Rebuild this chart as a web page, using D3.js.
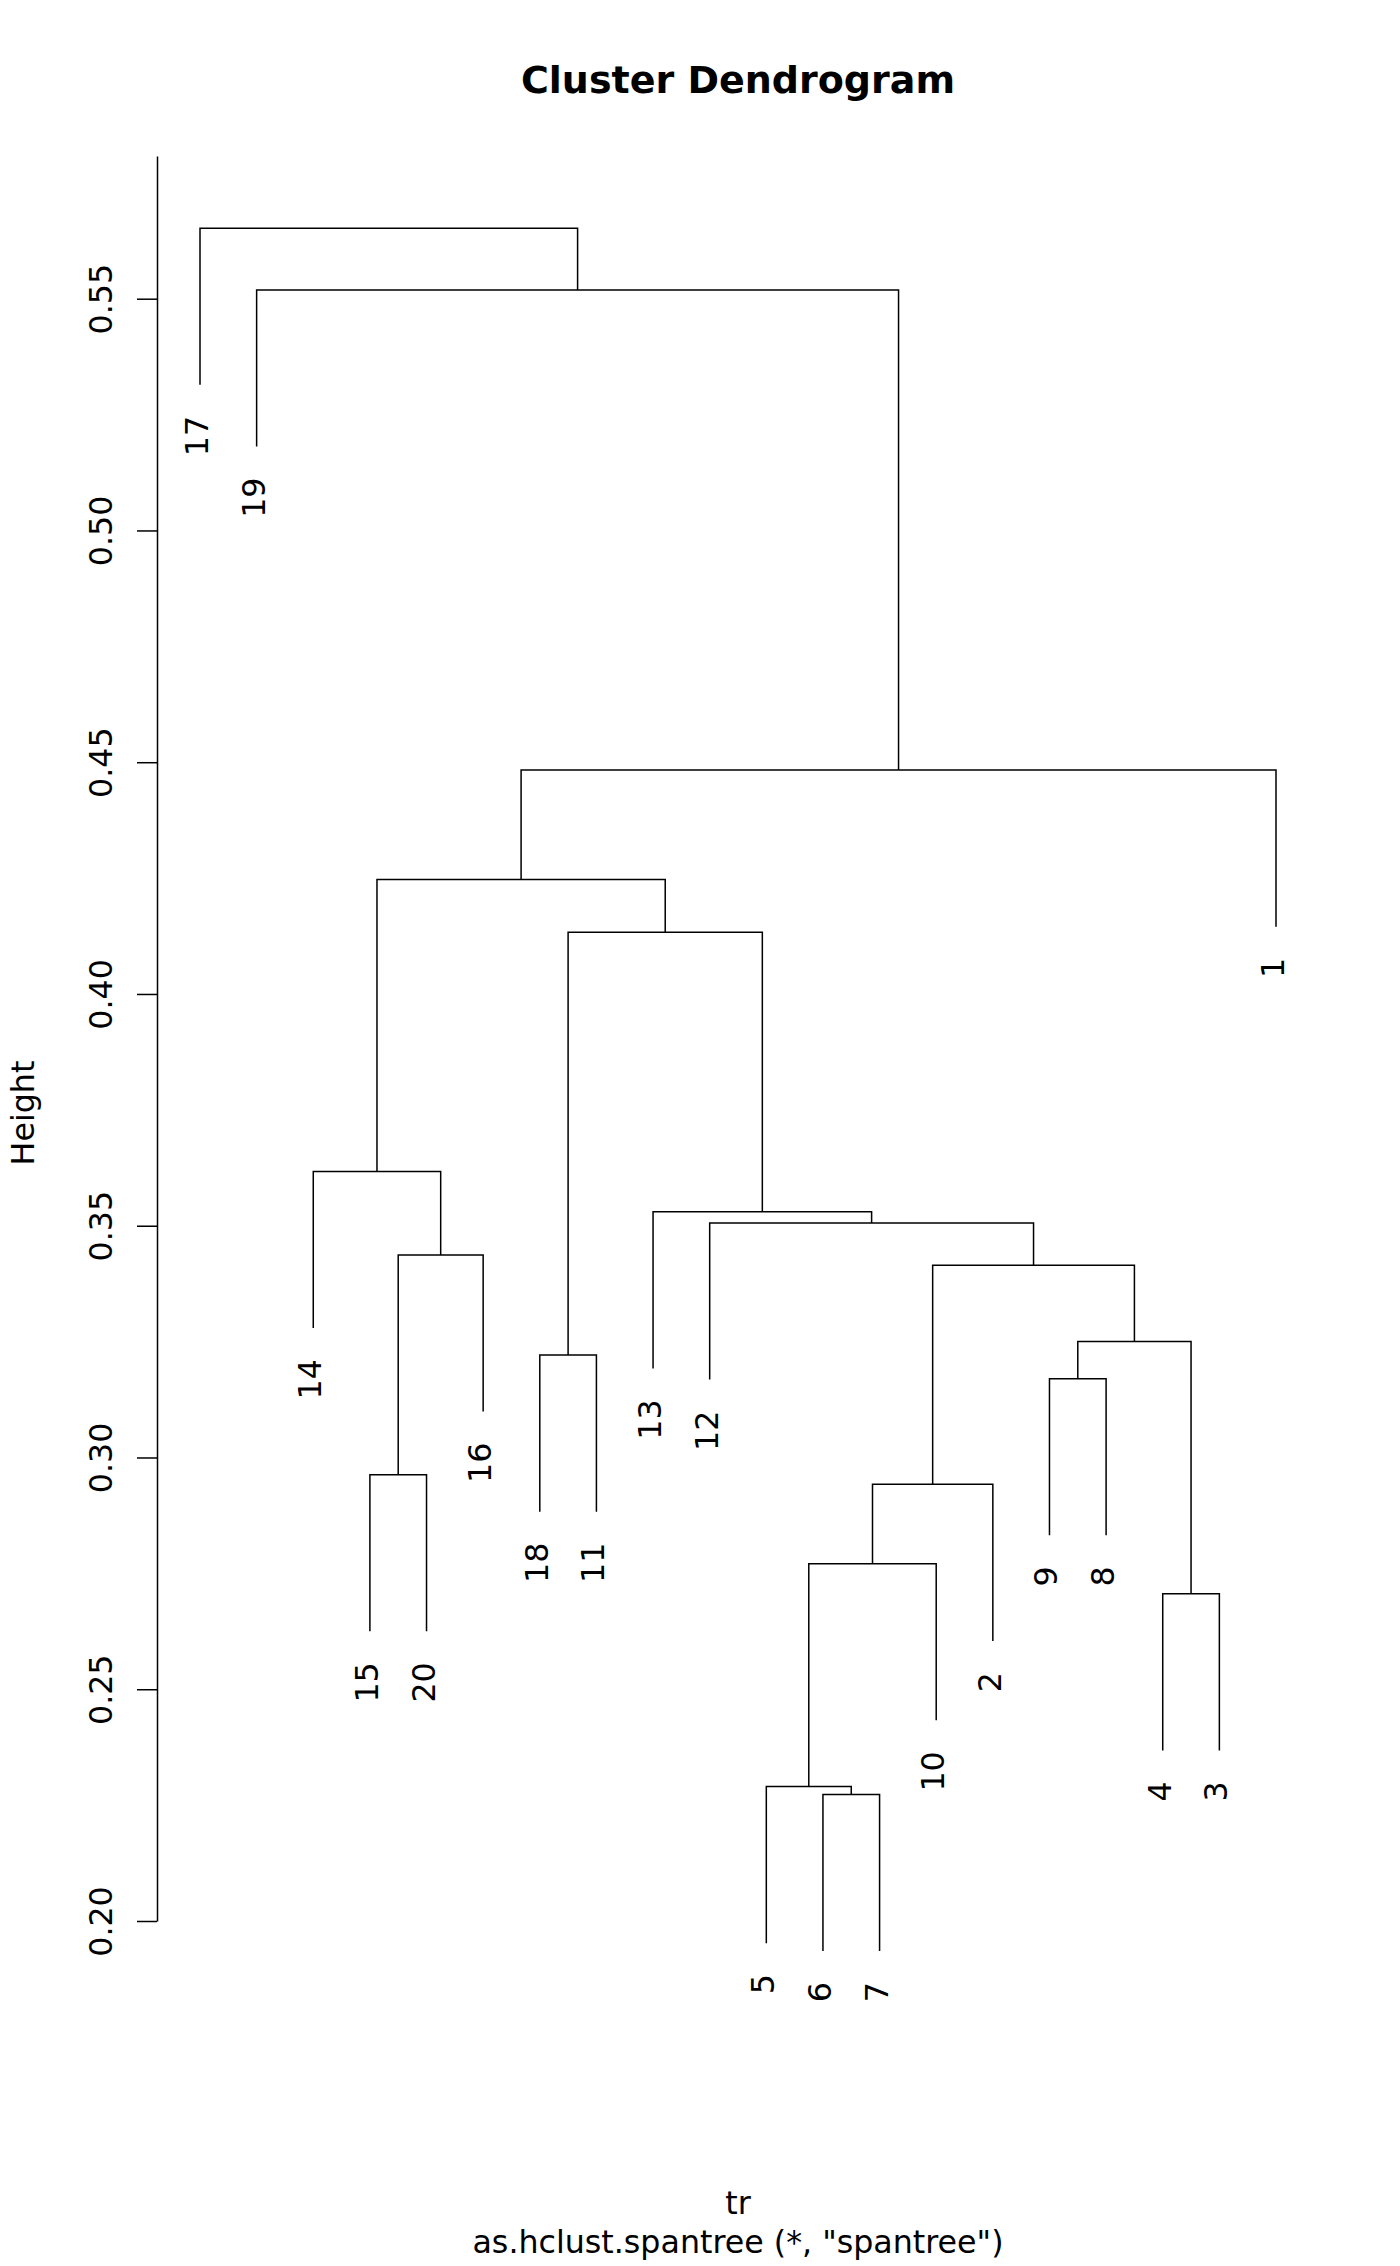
<!DOCTYPE html>
<meta charset="utf-8">
<head>
    <style>
        body {margin: 0; background: white;}
        text {font-family: "DejaVu Sans", sans-serif; fill: black;}
        .link {fill: none; stroke: black; stroke-width: 1.5;}
        .axis path, .axis line {stroke: black; stroke-width: 1.5;}
    </style>
    <script src="https://d3js.org/d3.v7.min.js"></script>
</head>
<body>
<script>

    // leaf order along the x axis (hclust$order)
    var leafOrder = [17, 19, 14, 15, 20, 16, 18, 11, 13, 12, 5, 6, 7, 10, 2, 9, 8, 4, 3, 1];

    // merge table, R style: negative = single leaf, positive = earlier merge step
    var mergeLeft   = [-6, -5, -4,  2,  4, -15, -9, -18, 7, 5,   6, -12, -13, -14,  8, 14,  16, -19, -17];
    var mergeRight  = [-7,  1, -3, -10, -2, -20, -8, -11, 3, 9, -16,  10,  12,  11, 13, 15,  -1,  17,  18];
    var mergeHeight = [0.2273, 0.2290, 0.2706, 0.2771, 0.2942, 0.2963, 0.3170, 0.3221, 0.3250, 0.3415,
                       0.3437, 0.3506, 0.3530, 0.3617, 0.4133, 0.4247, 0.4483, 0.5519, 0.5652];

    var tickValues = [0.20, 0.25, 0.30, 0.35, 0.40, 0.45, 0.50, 0.55];

    var width = 1400, height = 2266,
        fontSize = 31.7,
        hang = 0.1 * (d3.max(mergeHeight) - d3.min(mergeHeight));

    var svg = d3.select("body").append("svg")
        .attr("width", width)
        .attr("height", height);

    var x = d3.scaleLinear()
        .domain([1, leafOrder.length])
        .range([200, 1276]);

    var y = d3.scaleLinear()
        .domain([0.20, 0.55])
        .range([1921, 298.7]);

    var plotTop = 0.5808;

    // x position of every leaf and cluster
    var leafX = {};
    leafOrder.forEach(function(d, i) {leafX[d] = x(i + 1)});

    var clusterX = [];
    function posX(k) {return k < 0 ? leafX[-k] : clusterX[k - 1]}
    function posH(k, h) {return k < 0 ? h - hang : mergeHeight[k - 1]}

    mergeHeight.forEach(function(h, i) {
        clusterX[i] = (posX(mergeLeft[i]) + posX(mergeRight[i])) / 2;
    });

    svg.append("g").selectAll("path")
        .data(mergeHeight)
      .enter().append("path")
        .attr("class", "link")
        .attr("d", function(h, i) {
            var a = mergeLeft[i], b = mergeRight[i];
            return "M" + posX(a) + "," + y(posH(a, h)) +
                   "V" + y(h) +
                   "H" + posX(b) +
                   "V" + y(posH(b, h));
        });

    // leaf labels hang below the leaf ends
    var leafEnd = {};
    mergeHeight.forEach(function(h, i) {
        [mergeLeft[i], mergeRight[i]].forEach(function(k) {
            if (k < 0) leafEnd[-k] = h - hang;
        });
    });

    svg.append("g").selectAll("text")
        .data(leafOrder)
      .enter().append("text")
        .attr("transform", function(d) {return "translate(" + leafX[d] + "," + (y(leafEnd[d]) + 31) + ") rotate(-90)"})
        .attr("text-anchor", "end")
        .attr("dy", 8)
        .style("font-size", fontSize + "px")
        .text(function(d) {return d});

    // y axis
    var yAxis = d3.scaleLinear()
        .domain([0.20, plotTop])
        .range([y(0.20), y(plotTop)]);

    var axis = svg.append("g")
        .attr("class", "axis")
        .attr("transform", "translate(157,0)")
        .call(d3.axisLeft(yAxis).tickValues(tickValues).tickSize(20).tickSizeOuter(0)
            .tickFormat(d3.format(".2f")));

    axis.selectAll("text")
        .attr("x", null).attr("dy", null)
        .attr("text-anchor", "middle")
        .attr("transform", "translate(-45,0) rotate(-90)")
        .style("font-size", fontSize + "px")
        .style("font-family", "DejaVu Sans");

    axis.attr("font-size", null).attr("font-family", null);

    // titles
    svg.append("text")
        .attr("x", 738).attr("y", 93)
        .attr("text-anchor", "middle")
        .style("font-size", "38px")
        .style("font-weight", "bold")
        .text("Cluster Dendrogram");

    svg.append("text")
        .attr("transform", "translate(34,1113) rotate(-90)")
        .attr("text-anchor", "middle")
        .style("font-size", fontSize + "px")
        .text("Height");

    svg.append("text")
        .attr("x", 738).attr("y", 2214)
        .attr("text-anchor", "middle")
        .style("font-size", fontSize + "px")
        .text("tr");

    svg.append("text")
        .attr("x", 738).attr("y", 2253)
        .attr("text-anchor", "middle")
        .style("font-size", fontSize + "px")
        .text('as.hclust.spantree (*, "spantree")');

</script>
</body>
